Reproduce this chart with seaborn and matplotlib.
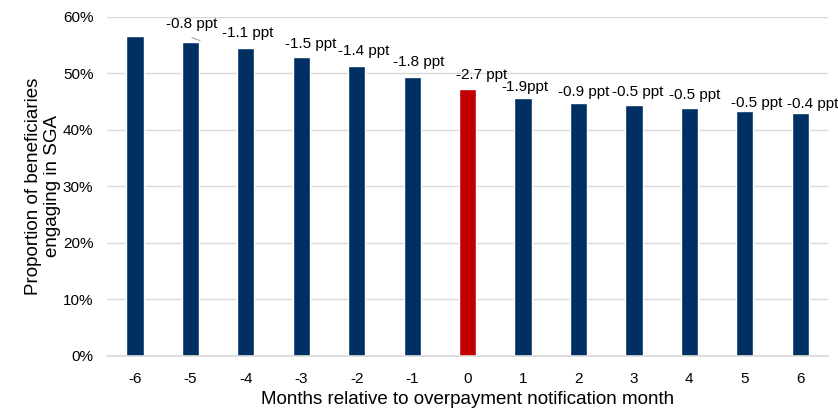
import matplotlib

matplotlib.use("Agg")
import matplotlib.pyplot as plt
import pandas as pd
import seaborn as sns
from matplotlib.ticker import PercentFormatter

months = [-6, -5, -4, -3, -2, -1, 0, 1, 2, 3, 4, 5, 6]
share_sga = [56.6, 55.6, 54.4, 52.8, 51.2, 49.3, 47.3, 45.6, 44.7, 44.3, 43.8, 43.3, 42.9]
change_labels = ["", "-0.8 ppt", "-1.1 ppt", "-1.5 ppt", "-1.4 ppt", "-1.8 ppt", "-2.7 ppt",
                 "-1.9ppt", "-0.9 ppt", "-0.5 ppt", "-0.5 ppt", "-0.5 ppt", "-0.4 ppt"]

NAVY = "#003063"
RED = "#C00000"

sns.set_theme(style="white")
plt.rcParams["font.family"] = ["Liberation Sans", "DejaVu Sans"]
plt.rcParams["text.color"] = "black"
plt.rcParams["axes.labelcolor"] = "black"

df = pd.DataFrame({"month": [str(m) for m in months], "share": share_sga})
df["group"] = ["notice" if m == 0 else "other" for m in months]

fig = plt.figure(figsize=(8.38, 4.09), dpi=100)
ax = fig.add_axes([0.128, 0.130, 0.860, 0.829])

sns.barplot(data=df, x="month", y="share", hue="group", dodge=False,
            palette={"other": NAVY, "notice": RED}, width=0.31,
            legend=False, ax=ax, saturation=1)

ax.set_ylim(0, 60)
ax.set_yticks(range(0, 61, 10))
ax.yaxis.set_major_formatter(PercentFormatter(decimals=0))
ax.grid(axis="y", color="#d9d9d9", linewidth=1)
ax.set_axisbelow(True)
for side in ["left", "right", "top"]:
    ax.spines[side].set_visible(False)
ax.spines["bottom"].set_color("#d9d9d9")
ax.tick_params(axis="both", length=0, labelsize=11, colors="black")
ax.tick_params(axis="y", pad=10)
ax.tick_params(axis="x", pad=12)

ax.set_xlabel("Months relative to overpayment notification month", fontsize=13.5, labelpad=3)
ax.set_ylabel("Proportion of beneficiaries\nengaging in SGA", fontsize=13.5, labelpad=1)

# label offsets (points) of the label centre relative to each bar top
offsets = [(0, 0), (1, 13), (1, 11), (6.5, 10), (5, 11), (5, 11), (10, 10),
           (1.5, 8), (4, 8), (3, 9.5), (3.5, 9.5), (8.5, 6), (9, 7)]
for i, (lab, val, off) in enumerate(zip(change_labels, share_sga, offsets)):
    if not lab:
        continue
    ax.annotate(lab, xy=(i, val), xytext=off, textcoords="offset points",
                ha="center", va="center", fontsize=11, annotation_clip=False)

# leader line for the first label
ax.annotate("", xy=(1.22, share_sga[1]), xytext=(0.98, share_sga[1] + 0.9),
            arrowprops=dict(arrowstyle="-", color="#a6a6a6", linewidth=0.8))

fig.savefig("out.png", dpi=100)
